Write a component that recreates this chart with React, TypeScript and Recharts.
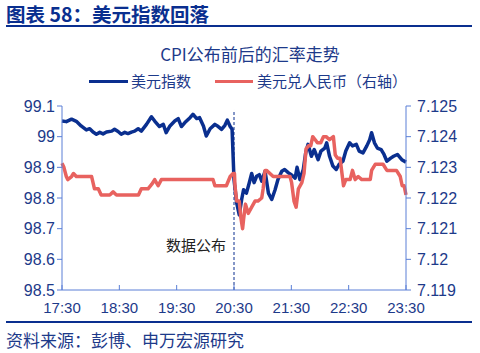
import { LineChart, Line, XAxis, YAxis, ReferenceLine } from "recharts";

// 时间轴：距 17:30 的分钟数
const X_TICKS = [0, 60, 120, 180, 240, 300, 360];
const X_TICK_LABELS = ["17:30", "18:30", "19:30", "20:30", "21:30", "22:30", "23:30"];
const LEFT_TICKS = [98.5, 98.6, 98.7, 98.8, 98.9, 99, 99.1];
const RIGHT_TICKS = [7.119, 7.12, 7.121, 7.122, 7.123, 7.124, 7.125];

// 美元指数
const DXY_MINUTES = [
  0, 4.5, 10, 15, 20, 25.5, 29, 32.5, 36, 39.5, 43, 46.5, 52, 55, 58.7, 62, 65.7, 69, 72.7, 76,
  79.7, 83, 88.4, 93.6, 97, 102, 106, 109, 113, 118, 121.6, 125, 128.6, 134, 137, 141, 144, 148,
  151, 155, 160, 163.5, 167, 170.5, 173, 176, 178, 180, 182.8, 185.5, 188, 190, 193, 196, 198.5,
  201, 203.7, 206.5, 209, 212.5, 216, 219.5, 223, 226, 230, 233, 237, 240, 244, 246, 249, 252.5,
  255, 257.5, 261, 264, 268, 271, 275, 277, 280, 283.5, 287, 290, 294, 297, 301, 304, 308, 311,
  315, 319, 322, 324, 327, 330, 334, 337, 340, 344, 347, 351, 355.6, 360,
];
const DXY_VALUES = [
  99.051, 99.049, 99.057, 99.05, 99.035, 99.022, 99.026, 99.015, 99.008, 99.014, 99.009, 99.015,
  99.018, 99.024, 99.017, 99.008, 99.014, 99.01, 99.015, 99.018, 99.026, 99.018, 99.04, 99.065,
  99.051, 99.033, 99.04, 99.013, 99.035, 99.051, 99.059, 99.033, 99.046, 99.062, 99.073, 99.059,
  99.062, 99.035, 99.002, 99.026, 99.04, 99.033, 99.024, 99.037, 99.054, 99.033, 99.024, 98.86,
  98.784, 98.745, 98.795, 98.827, 98.816, 98.85, 98.88, 98.85, 98.871, 98.876, 98.855, 98.887,
  98.816, 98.795, 98.827, 98.86, 98.887, 98.893, 98.882, 98.876, 98.865, 98.9, 98.86, 98.893,
  98.947, 98.975, 98.936, 98.958, 98.925, 98.953, 98.963, 98.98, 98.936, 98.904, 98.893, 98.91,
  98.92, 98.953, 98.98, 98.97, 98.975, 98.953, 98.947, 98.97, 98.99, 99.013, 98.98, 98.963,
  98.958, 98.942, 98.92, 98.93, 98.936, 98.942, 98.925, 98.917,
];

// 美元兑人民币（右轴）
const CNY_MINUTES = [
  0, 2, 4.5, 6, 10, 12, 15, 31, 34, 38, 41, 50, 53.5, 57, 80, 83, 90, 94, 97, 100.6, 104, 158,
  160, 172, 176, 179, 180.5, 181, 182.8, 185.5, 187, 189, 190, 192, 194.9, 198.5, 202, 205, 209,
  210.5, 212.5, 214, 217.6, 221, 238.6, 240.3, 242.8, 245, 247.4, 251, 253.3, 255.4, 257.9, 260.3,
  262.4, 265, 267.3, 270.8, 273.6, 276.4, 280, 284, 286, 288.3, 291, 293, 294.6, 297, 301.5, 304,
  306.8, 310, 313.7, 322.6, 324, 327.8, 336, 340, 350, 354, 356, 358, 360,
];
const CNY_VALUES = [
  7.12313, 7.123, 7.1227, 7.1226, 7.1227, 7.1228, 7.1227, 7.1227, 7.1223, 7.1223, 7.1221, 7.1221,
  7.1222, 7.1221, 7.1221, 7.1223, 7.1223, 7.12245, 7.1226, 7.1224, 7.1226, 7.1226, 7.1224, 7.1224,
  7.1227, 7.1228, 7.1228, 7.1224, 7.1219, 7.1219, 7.1214, 7.121, 7.1213, 7.1218, 7.1215, 7.1217,
  7.1219, 7.1219, 7.122, 7.1223, 7.1229, 7.1229, 7.1228, 7.1227, 7.1227, 7.1225, 7.1219, 7.1217,
  7.1223, 7.1225, 7.1228, 7.1236, 7.1237, 7.1237, 7.124, 7.1239, 7.1238, 7.1238, 7.124, 7.124,
  7.1239, 7.124, 7.1234, 7.1233, 7.1233, 7.1228, 7.1224, 7.1226, 7.1226, 7.1229, 7.1226, 7.1227,
  7.1226, 7.1226, 7.1229, 7.1231, 7.1231, 7.1229, 7.1229, 7.1227, 7.1224, 7.1224, 7.1221,
];

const dxyData = DXY_MINUTES.map((m, i) => ({ m, dxy: DXY_VALUES[i] }));
const cnyData = CNY_MINUTES.map((m, i) => ({ m, cny: CNY_VALUES[i] }));

const NAVY = "#0a2f8f";
const TEXT_BLUE = "#1d3a8a";
const AXIS_BLUE = "#5a7fd6";
const RED = "#e8625f";
const FONT = "'Liberation Sans', Arial, 'Noto Sans CJK SC', sans-serif";
const CJK = "'Noto Sans CJK SC', 'Liberation Sans', sans-serif";

function XTick(props: any) {
  const { x, y, payload } = props;
  const idx = X_TICKS.indexOf(payload.value);
  return (
    <g>
      <line x1={x} x2={x} y1={y} y2={y - 5} stroke={AXIS_BLUE} />
      <text x={x} y={y + 23} textAnchor="middle" fill={TEXT_BLUE} fontSize={15} fontFamily={FONT}>
        {X_TICK_LABELS[idx]}
      </text>
    </g>
  );
}

export default function App() {
  return (
    <div style={{ position: "absolute", left: 0, top: 0, width: 480, height: 353, background: "#fff" }}>
      <div
        style={{
          position: "absolute", left: 6, top: 2, fontSize: 19.5, fontWeight: 700,
          color: NAVY, fontFamily: CJK, lineHeight: "24px", whiteSpace: "nowrap",
        }}
      >
        图表 58：美元指数回落
      </div>
      <div style={{ position: "absolute", left: 6, top: 25, width: 466, height: 2, background: NAVY }} />

      <div
        style={{
          position: "absolute", left: 0, width: 500, top: 44, textAlign: "center",
          fontSize: 17, color: TEXT_BLUE, fontFamily: CJK, lineHeight: "20px",
        }}
      >
        CPI公布前后的汇率走势
      </div>

      <div style={{ position: "absolute", left: 89, top: 80, width: 39, height: 3, background: NAVY }} />
      <div style={{ position: "absolute", left: 131, top: 72, fontSize: 15, color: TEXT_BLUE, fontFamily: CJK, lineHeight: "18px", whiteSpace: "nowrap" }}>
        美元指数
      </div>
      <div style={{ position: "absolute", left: 215, top: 80, width: 38, height: 3, background: RED }} />
      <div style={{ position: "absolute", left: 257, top: 72, fontSize: 15, color: TEXT_BLUE, fontFamily: CJK, lineHeight: "18px", whiteSpace: "nowrap" }}>
        美元兑人民币（右轴）
      </div>

      <div style={{ position: "absolute", left: 0, top: 0 }}>
        <LineChart width={480} height={353} margin={{ top: 106, right: 0, bottom: 0, left: 0 }}>
          <XAxis
            type="number"
            dataKey="m"
            domain={[0, 360]}
            ticks={X_TICKS}
            allowDuplicatedCategory={false}
            height={63}
            stroke={AXIS_BLUE}
            tickLine={false}
            tickSize={0}
            tickMargin={0}
            tick={<XTick />}
          />
          <YAxis
            yAxisId="left"
            orientation="left"
            width={62}
            domain={[98.5, 99.1]}
            ticks={LEFT_TICKS}
            stroke={AXIS_BLUE}
            tickSize={5}
            tick={{ fill: TEXT_BLUE, fontSize: 16, fontFamily: FONT }}
          />
          <YAxis
            yAxisId="right"
            orientation="right"
            width={74}
            domain={[7.119, 7.125]}
            ticks={RIGHT_TICKS}
            stroke={AXIS_BLUE}
            tickSize={5}
            tickMargin={6}
            tick={{ fill: TEXT_BLUE, fontSize: 16, fontFamily: FONT }}
          />
          <ReferenceLine
            yAxisId="left"
            segment={[{ x: 180, y: 98.5 }, { x: 180, y: 99.087 }]}
            stroke={NAVY}
            strokeDasharray="3 2"
            strokeWidth={1}
          />
          <Line
            yAxisId="left"
            data={dxyData}
            dataKey="dxy"
            type="linear"
            stroke={NAVY}
            strokeWidth={3.5}
            strokeLinejoin="round"
            dot={false}
            isAnimationActive={false}
          />
          <Line
            yAxisId="right"
            data={cnyData}
            dataKey="cny"
            type="linear"
            stroke={RED}
            strokeWidth={3.5}
            strokeLinejoin="round"
            dot={false}
            isAnimationActive={false}
          />
        </LineChart>
      </div>

      <div style={{ position: "absolute", left: 166, top: 236, fontSize: 15, color: "#222", fontFamily: CJK, lineHeight: "18px", whiteSpace: "nowrap" }}>
        数据公布
      </div>

      <div style={{ position: "absolute", left: 6, top: 321, width: 466, height: 2, background: NAVY }} />
      <div style={{ position: "absolute", left: 6, top: 330, fontSize: 17, color: TEXT_BLUE, fontFamily: CJK, lineHeight: "20px", whiteSpace: "nowrap" }}>
        资料来源：彭博、申万宏源研究
      </div>
    </div>
  );
}
